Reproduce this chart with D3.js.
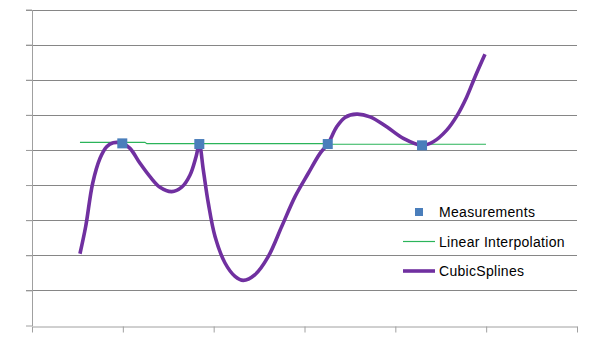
<!DOCTYPE html>
<html>
<head>
<meta charset="utf-8">
<script src="https://cdn.jsdelivr.net/npm/d3@7"></script>
<style>
  html, body { margin: 0; padding: 0; background: #fff; }
  svg { display: block; }
  text { font-family: "Liberation Sans", Arial, sans-serif; }
</style>
</head>
<body>
<svg id="chart" width="600" height="360"></svg>
<script>
// ---- data ----
const measX = [0.994, 1.842, 3.256, 4.294];
const measY = [5.187, 5.168, 5.168, 5.131];

const linX = [0.528, 1.243, 1.265, 3.245, 3.256, 4.998];
const linY = [5.216, 5.216, 5.179, 5.179, 5.162, 5.162];

const splineX = [0.528, 0.591, 0.668, 0.749, 0.822, 0.895, 0.994, 1.079, 1.189, 1.299,
                 1.409, 1.538, 1.648, 1.740, 1.806, 1.842, 1.886, 1.941, 2.015, 2.125,
                 2.235, 2.326, 2.455, 2.602, 2.749, 2.896, 3.042, 3.171, 3.256, 3.355,
                 3.446, 3.575, 3.721, 3.905, 4.088, 4.294, 4.418, 4.566, 4.676, 4.786,
                 4.877, 4.987];
const splineY = [2.044, 2.819, 4.052, 4.762, 5.091, 5.204, 5.187, 5.045, 4.620, 4.239,
                 3.938, 3.813, 3.938, 4.287, 4.807, 5.168, 4.429, 3.484, 2.536, 1.780,
                 1.400, 1.286, 1.448, 1.968, 2.819, 3.671, 4.336, 4.903, 5.168, 5.659,
                 5.926, 6.019, 5.943, 5.659, 5.329, 5.131, 5.233, 5.565, 5.963, 6.511,
                 7.078, 7.723];

const xTicks = [0, 1, 2, 3, 4, 5, 6];
const yTicks = [0, 1, 2, 3, 4, 5, 6, 7, 8, 9];
const legendLabels = ["Measurements", "Linear Interpolation", "CubicSplines"];

// ---- drawing ----
const svg = d3.select("#chart");
const x = d3.scaleLinear().domain([0, 6]).range([32, 577]);
const y = d3.scaleLinear().domain([0, 9]).range([325.5, 9.5]);

const gridColor = "#868686";
const axisColor = "#a0a0a0";

// gridlines
svg.append("g").selectAll("line").data(yTicks.filter(d => d > 0)).join("line")
  .attr("x1", 26).attr("x2", 577)
  .attr("y1", d => Math.round(y(d)) + 0.5).attr("y2", d => Math.round(y(d)) + 0.5)
  .attr("stroke", gridColor).attr("stroke-width", 1);

// y axis
const yAxis = d3.axisLeft(y).tickValues(yTicks).tickSize(6).tickSizeOuter(0).tickFormat("");
const gy = svg.append("g").attr("transform", "translate(32,0)").call(yAxis);
gy.selectAll("path,line").attr("stroke", axisColor);
gy.select(".domain").attr("stroke", axisColor);

// x axis
const xAxis = d3.axisBottom(x).tickValues(xTicks).tickSize(6).tickSizeOuter(0).tickFormat("");
const gx = svg.append("g").attr("transform", `translate(0,${Math.round(y(0)) + 0.5})`).call(xAxis);
gx.selectAll("path,line").attr("stroke", axisColor);

// linear interpolation line
const linData = linX.map((d, i) => [d, linY[i]]);
svg.append("path")
  .datum(linData)
  .attr("fill", "none")
  .attr("stroke", "#2bb45a")
  .attr("stroke-width", 1.2)
  .attr("d", d3.line().x(d => x(d[0])).y(d => y(d[1])));

// cubic spline
const splData = splineX.map((d, i) => [d, splineY[i]]);
svg.append("path")
  .datum(splData)
  .attr("fill", "none")
  .attr("stroke", "#7030a0")
  .attr("stroke-width", 3.6)
  .attr("stroke-linejoin", "round")
  .attr("stroke-linecap", "butt")
  .attr("d", d3.line().curve(d3.curveCatmullRom.alpha(0.5)).x(d => x(d[0])).y(d => y(d[1])));

// measurement markers
const measData = measX.map((d, i) => [d, measY[i]]);
svg.append("g").selectAll("rect").data(measData).join("rect")
  .attr("x", d => x(d[0]) - 5).attr("y", d => y(d[1]) - 5)
  .attr("width", 10).attr("height", 10)
  .attr("fill", "#4a7ebb");

// legend
const lg = svg.append("g");
const ly = [212, 241.5, 271];
lg.append("rect").attr("x", 415).attr("y", ly[0] - 4).attr("width", 8).attr("height", 8).attr("fill", "#4a7ebb");
lg.append("line").attr("x1", 403).attr("x2", 435).attr("y1", ly[1]).attr("y2", ly[1])
  .attr("stroke", "#2bb45a").attr("stroke-width", 1.2);
lg.append("line").attr("x1", 403).attr("x2", 435).attr("y1", ly[2]).attr("y2", ly[2])
  .attr("stroke", "#7030a0").attr("stroke-width", 3.6);
lg.selectAll("text").data(legendLabels).join("text")
  .attr("x", 439).attr("y", (d, i) => ly[i] + 5)
  .attr("font-size", 14).attr("letter-spacing", 0.3)
  .attr("fill", "#000")
  .text(d => d);
</script>
</body>
</html>
